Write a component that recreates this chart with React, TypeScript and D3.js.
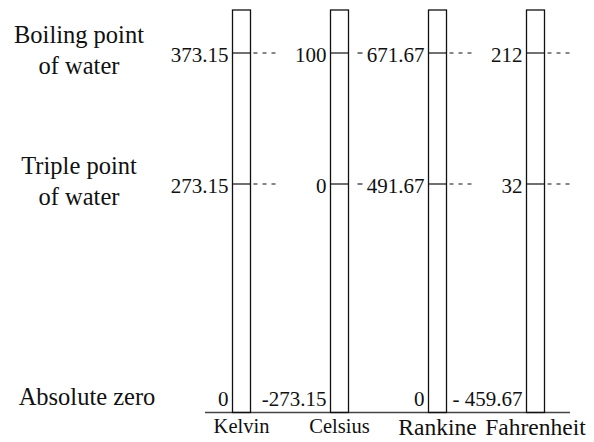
import React, { useEffect, useRef } from "react";
import * as d3 from "d3";

const scales = ["Kelvin", "Celsius", "Rankine", "Fahrenheit"];
const levels = ["Boiling point\nof water", "Triple point\nof water", "Absolute zero"];
const levelKelvin = [373.15, 273.15, 0];
const boilingValues = ["373.15", "100", "671.67", "212"];
const tripleValues = ["273.15", "0", "491.67", "32"];
const zeroValues = ["0", "-273.15", "0", "- 459.67"];
const nameSizes = [20.5, 20.5, 23.5, 23.5];
const dashStyles = ["long", "short", "long", "long"];

const W = 594;
const H = 442;
const FONT = "Liberation Serif";

export default function App() {
  const ref = useRef<SVGSVGElement | null>(null);

  useEffect(() => {
    const svg = d3.select(ref.current);
    svg.selectAll("*").remove();

    const x = d3.scalePoint<string>().domain(scales).range([241.5, 535.5]);
    const y = d3.scaleLinear().domain([0, 273.15, 373.15]).range([397, 184, 53]);
    const barW = 18;
    const top = 10;
    const floor = 412.5;
    const rows = [boilingValues, tripleValues, zeroValues];

    // level labels on the left
    levels.forEach((lab, i) => {
      const lines = lab.split("\n");
      const cy = y(levelKelvin[i]);
      const cx = lines.length > 1 ? 79 : 87;
      const lh = 31;
      const firstBase = cy + 5 - ((lines.length - 1) * lh) / 2;
      lines.forEach((l, j) => {
        svg
          .append("text")
          .attr("x", cx)
          .attr("y", lines.length > 1 ? firstBase + j * lh : cy + 7.5)
          .attr("text-anchor", "middle")
          .attr("font-family", FONT)
          .attr("font-size", 24.5)
          .attr("fill", "#111")
          .text(l);
      });
    });

    svg
      .append("line")
      .attr("x1", 205)
      .attr("x2", 570)
      .attr("y1", floor)
      .attr("y2", floor)
      .attr("stroke", "#444")
      .attr("stroke-width", 1.3);

    scales.forEach((s, ci) => {
      const cx = x(s)!;
      const left = cx - barW / 2;
      const right = cx + barW / 2;
      const g = svg.append("g");
      g.append("rect")
        .attr("x", left)
        .attr("y", top)
        .attr("width", barW)
        .attr("height", floor - top)
        .attr("fill", "none")
        .attr("stroke", "#111")
        .attr("stroke-width", 1.3);

      levelKelvin.slice(0, 2).forEach((k) => {
        g.append("line")
          .attr("x1", left)
          .attr("x2", right)
          .attr("y1", y(k))
          .attr("y2", y(k))
          .attr("stroke", "#111")
          .attr("stroke-width", 1.2);
        if (dashStyles[ci] === "long") {
          g.append("line")
            .attr("x1", right + 3)
            .attr("x2", right + 28)
            .attr("y1", y(k))
            .attr("y2", y(k))
            .attr("stroke", "#111")
            .attr("stroke-width", 1.1)
            .attr("stroke-dasharray", "4,5");
        } else {
          g.append("line")
            .attr("x1", right + 9)
            .attr("x2", right + 14)
            .attr("y1", y(k))
            .attr("y2", y(k))
            .attr("stroke", "#111")
            .attr("stroke-width", 1.1);
        }
      });

      rows.forEach((vals, ri) => {
        g.append("text")
          .attr("x", left - 4)
          .attr("y", y(levelKelvin[ri]) + 9)
          .attr("text-anchor", "end")
          .attr("font-family", FONT)
          .attr("font-size", 21)
          .attr("fill", "#111")
          .text(vals[ci]);
      });

      g.append("text")
        .attr("x", cx)
        .attr("y", ci < 2 ? 433 : 435)
        .attr("text-anchor", "middle")
        .attr("font-family", FONT)
        .attr("font-size", nameSizes[ci])
        .attr("fill", "#111")
        .text(s);
    });
  }, []);

  return (
    <div style={{ margin: "-8px 0 0 -8px" }}>
      <svg ref={ref} width={W} height={H} style={{ display: "block", background: "#fff" }} />
    </div>
  );
}
